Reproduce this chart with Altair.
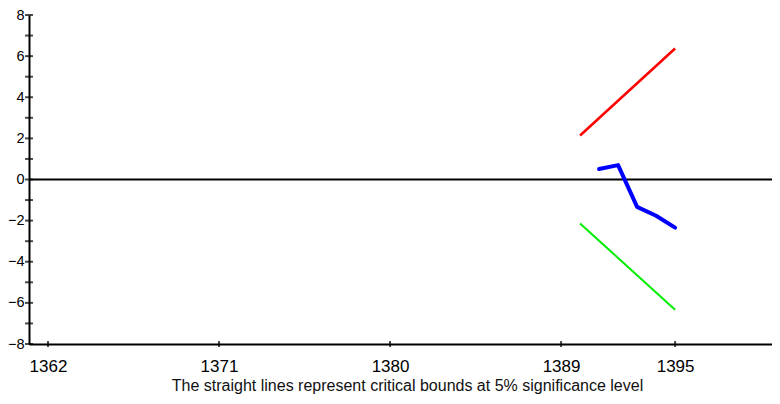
import altair as alt
import pandas as pd

# --- data ---
bound_years = [1390, 1395]
upper_bound = [2.14, 6.37]
lower_bound = [-2.14, -6.33]

cusum_years = [1391, 1392, 1393, 1394, 1395]
cusum_values = [0.51, 0.70, -1.33, -1.76, -2.34]

x_tick_values = [1362, 1371, 1380, 1389, 1395]
y_tick_values = list(range(-8, 9))
y_label_values = [-8, -6, -4, -2, 0, 2, 4, 6, 8]

caption = "The straight lines represent critical bounds at 5% significance level"

FONT = "Liberation Sans"
X_DOMAIN = [1361, 1400.1]
Y_DOMAIN = [-8, 8]

xs = alt.Scale(domain=X_DOMAIN, nice=False, zero=False)
ys = alt.Scale(domain=Y_DOMAIN, nice=False, zero=False)

bounds_df = pd.DataFrame({"year": bound_years, "upper": upper_bound, "lower": lower_bound})
cusum_df = pd.DataFrame({"year": cusum_years, "value": cusum_values})
ytick_df = pd.DataFrame({"v": y_tick_values})
xtick_df = pd.DataFrame({"v": x_tick_values})

x_axis = alt.Axis(
    values=x_tick_values, format="d", title=caption,
    labelFont=FONT, labelFontSize=17, labelColor="black", labelPadding=14,
    ticks=False, tickSize=0, grid=False,
    domainColor="black", domainWidth=2,
    titleFont=FONT, titleFontSize=16, titleFontWeight="normal", titleColor="#111",
    titlePadding=3, titleAnchor="start", titleAlign="center", titleX=378,
)
y_axis = alt.Axis(
    values=y_label_values, title=None,
    labelFont=FONT, labelFontSize=14.5, labelColor="black", labelPadding=5,
    ticks=False, tickSize=0, grid=False,
    domainColor="black", domainWidth=2,
)

upper = alt.Chart(bounds_df).mark_line(color="#ff0000", strokeWidth=2.5).encode(
    x=alt.X("year:Q", scale=xs, axis=x_axis),
    y=alt.Y("upper:Q", scale=ys, axis=y_axis),
)
lower = alt.Chart(bounds_df).mark_line(color="#00ee00", strokeWidth=2).encode(
    x=alt.X("year:Q", scale=xs),
    y=alt.Y("lower:Q", scale=ys),
)
cusum = alt.Chart(cusum_df).mark_line(color="#0000ff", strokeWidth=4, strokeJoin="round", strokeCap="round").encode(
    x=alt.X("year:Q", scale=xs),
    y=alt.Y("value:Q", scale=ys),
)
zero = alt.Chart(pd.DataFrame({"z": [0]})).mark_rule(color="black", strokeWidth=2).encode(
    y=alt.Y("z:Q", scale=ys),
)
yticks = alt.Chart(ytick_df).mark_tick(orient="horizontal", size=8, thickness=2, color="black", clip=False).encode(
    y=alt.Y("v:Q", scale=ys),
    x=alt.datum(X_DOMAIN[0], scale=xs),
)
xticks = alt.Chart(xtick_df).mark_tick(orient="vertical", size=6, thickness=2, color="black", clip=False).encode(
    x=alt.X("v:Q", scale=xs),
    y=alt.datum(Y_DOMAIN[0], scale=ys),
)

chart = alt.layer(zero, upper, lower, cusum, yticks, xticks).properties(
    width=743, height=329,
    padding={"left": 21, "top": 7, "right": 0, "bottom": 52},
    autosize=alt.AutoSizeParams(type="none"),
    background="white",
).configure_view(stroke="transparent", strokeWidth=0)

chart.save("out.html", embed_options={"renderer": "svg", "actions": False})
